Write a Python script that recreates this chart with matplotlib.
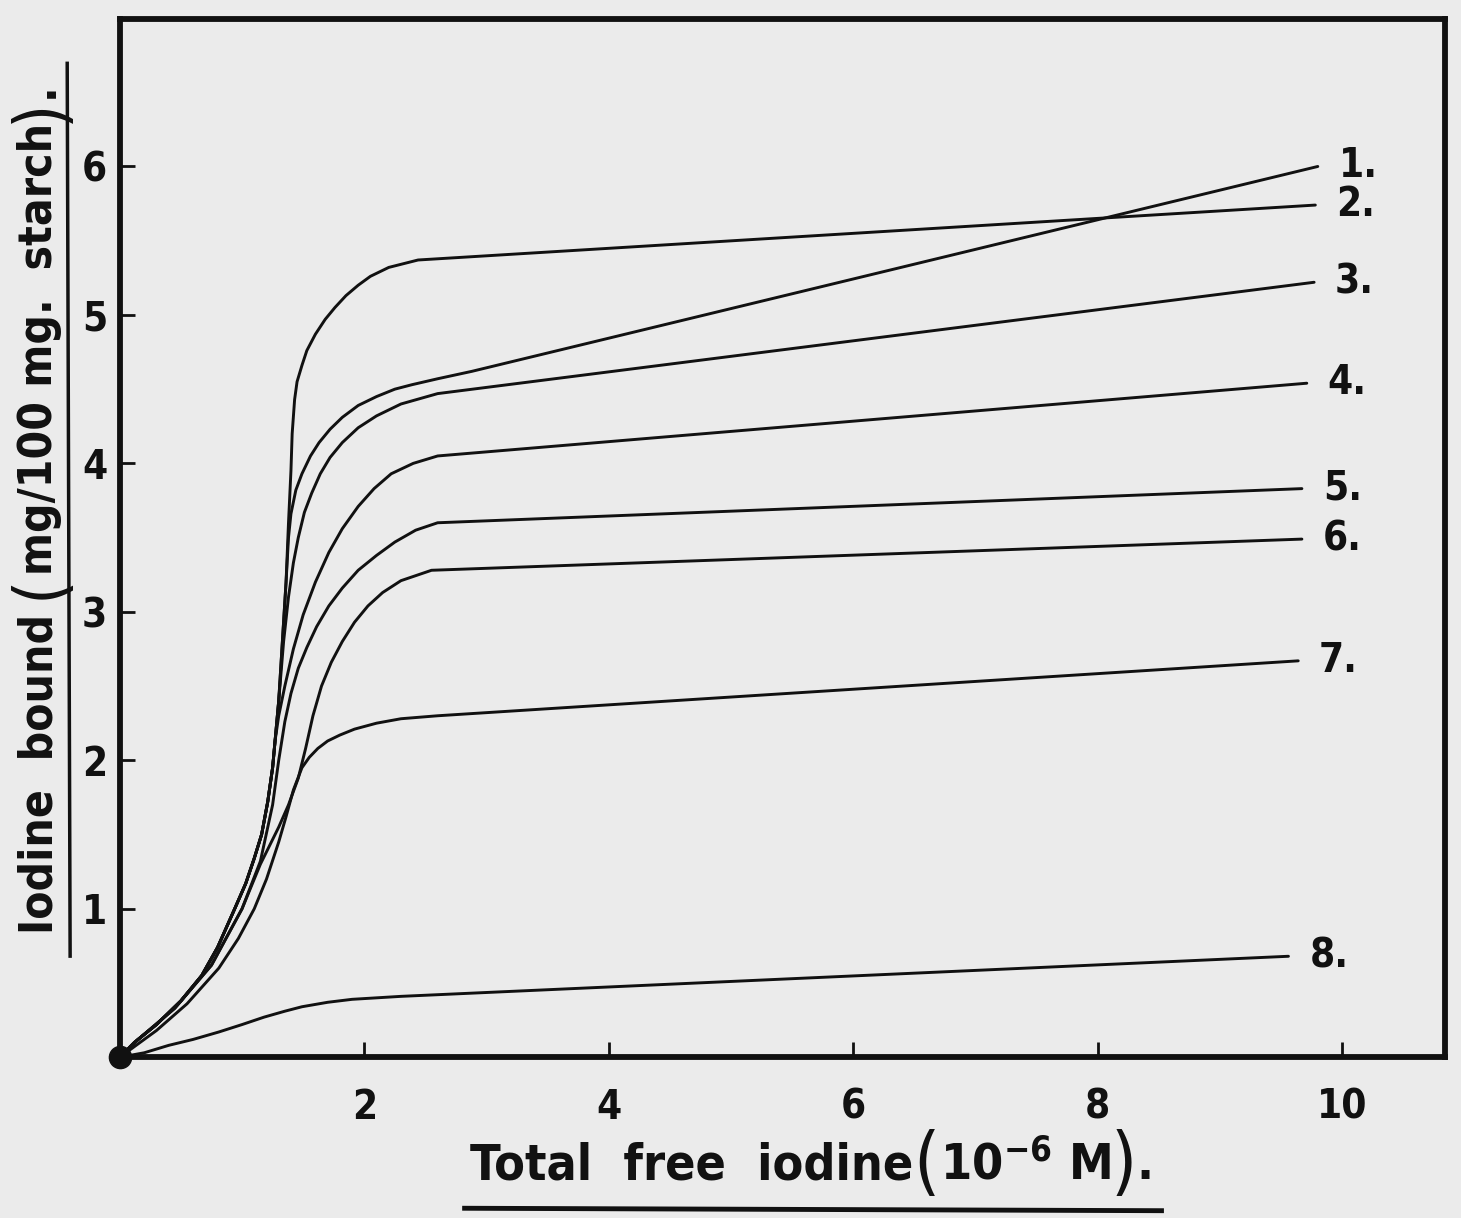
import matplotlib
matplotlib.use('Agg')
import matplotlib.pyplot as plt
from matplotlib.lines import Line2D
from matplotlib.transforms import IdentityTransform

# curves (x: 10^-6 M free iodine, y: mg / 100 mg starch)
c1_x = [0, 0.12, 0.3, 0.5, 0.67, 0.8, 0.94, 1.03, 1.1, 1.16, 1.21, 1.25, 1.27, 1.3, 1.33, 1.36, 1.38, 1.4, 1.44,
        1.49, 1.56, 1.63, 1.72, 1.82, 1.95, 2.1, 2.25, 2.39, 2.6, 2.88, 9.8]
c1_y = [0, 0.1, 0.22, 0.38, 0.55, 0.74, 1.0, 1.17, 1.34, 1.5, 1.72, 1.95, 2.13, 2.4, 2.8, 3.2, 3.5, 3.66, 3.82,
        3.93, 4.05, 4.14, 4.23, 4.31, 4.39, 4.45, 4.5, 4.53, 4.57, 4.62, 6.0]

c2_x = [0, 0.12, 0.3, 0.5, 0.67, 0.8, 0.94, 1.03, 1.1, 1.16, 1.21, 1.25, 1.27, 1.3, 1.33, 1.36, 1.38, 1.4, 1.41,
        1.43, 1.45, 1.49, 1.53, 1.6, 1.68, 1.76, 1.85, 1.95, 2.05, 2.2, 2.44, 9.78]
c2_y = [0, 0.1, 0.22, 0.38, 0.55, 0.74, 1.0, 1.17, 1.34, 1.5, 1.72, 1.95, 2.13, 2.4, 2.8, 3.2, 3.6, 3.95, 4.2,
        4.43, 4.55, 4.66, 4.76, 4.87, 4.97, 5.05, 5.13, 5.2, 5.26, 5.32, 5.37, 5.74]

c3_x = [0, 0.12, 0.3, 0.5, 0.67, 0.8, 0.94, 1.03, 1.1, 1.16, 1.21, 1.25, 1.27, 1.3, 1.34, 1.38, 1.42, 1.46, 1.51,
        1.57, 1.64, 1.72, 1.82, 1.95, 2.1, 2.3, 2.6, 9.77]
c3_y = [0, 0.1, 0.22, 0.38, 0.55, 0.74, 1.0, 1.17, 1.34, 1.5, 1.72, 1.95, 2.13, 2.4, 2.8, 3.1, 3.33, 3.5, 3.67,
        3.8, 3.93, 4.04, 4.14, 4.24, 4.32, 4.4, 4.47, 5.22]

c4_x = [0, 0.12, 0.3, 0.5, 0.67, 0.8, 0.94, 1.03, 1.1, 1.16, 1.21, 1.25, 1.27, 1.3, 1.35, 1.42, 1.5, 1.6, 1.71,
        1.82, 1.95, 2.08, 2.22, 2.4, 2.6, 9.71]
c4_y = [0, 0.1, 0.22, 0.38, 0.55, 0.74, 1.0, 1.17, 1.34, 1.5, 1.72, 1.95, 2.13, 2.3, 2.5, 2.75, 2.98, 3.2, 3.4,
        3.56, 3.71, 3.83, 3.93, 4.0, 4.05, 4.54]

c5_x = [0, 0.15, 0.45, 0.75, 1.0, 1.15, 1.25, 1.3, 1.35, 1.4, 1.46, 1.53, 1.61, 1.71, 1.82, 1.95, 2.1, 2.25,
        2.42, 2.6, 9.67]
c5_y = [0, 0.12, 0.33, 0.62, 1.0, 1.32, 1.7, 2.0, 2.26, 2.45, 2.62, 2.76, 2.9, 3.04, 3.16, 3.28, 3.38, 3.47,
        3.55, 3.6, 3.83]

c6_x = [0, 0.15, 0.45, 0.75, 1.0, 1.15, 1.3, 1.38, 1.46, 1.52, 1.58, 1.65, 1.73, 1.82, 1.92, 2.03, 2.15, 2.3,
        2.55, 9.67]
c6_y = [0, 0.12, 0.33, 0.62, 1.0, 1.3, 1.55, 1.7, 1.88, 2.08, 2.3, 2.5, 2.66, 2.8, 2.93, 3.04, 3.13, 3.21,
        3.28, 3.49]

c7_x = [0, 0.3, 0.55, 0.81, 0.97, 1.1, 1.2, 1.3, 1.36, 1.42, 1.49, 1.55, 1.62, 1.7, 1.8, 1.92, 2.1, 2.3, 2.6, 9.64]
c7_y = [0, 0.18, 0.36, 0.6, 0.8, 1.0, 1.2, 1.45, 1.62, 1.8, 1.95, 2.02, 2.08, 2.13, 2.17, 2.21, 2.25, 2.28, 2.3, 2.67]

c8_x = [0, 0.2, 0.4, 0.6, 0.81, 1.0, 1.18, 1.35, 1.49, 1.7, 1.9, 2.3, 9.56]
c8_y = [0, 0.03, 0.08, 0.12, 0.17, 0.22, 0.27, 0.31, 0.34, 0.37, 0.39, 0.41, 0.68]

curve_labels = ['1.', '2.', '3.', '4.', '5.', '6.', '7.', '8.']
x_ticks = [2, 4, 6, 8, 10]
y_ticks = [1, 2, 3, 4, 5, 6]

# axis titles, split so the brackets can be drawn tall and thin like in the original
xlabel_parts = [('Total  free  iodine', 36, 'bold'), ('(', 54, 'normal'), ('10$^{-6}$ M', 36, 'bold'),
                (')', 54, 'normal'), ('.', 36, 'bold')]
ylabel_parts = [('Iodine  bound ', 33, 'bold'), ('(', 50, 'normal'), ('mg/100 mg.  starch', 33, 'bold'),
                (')', 50, 'normal'), ('.', 33, 'bold')]

paper = '#ebebeb'
ink = '#111111'

plt.rcParams['font.family'] = ['DejaVu Sans']
plt.rcParams['font.stretch'] = 'condensed'
plt.rcParams['font.weight'] = 'bold'
plt.rcParams['mathtext.default'] = 'regular'

fig = plt.figure(figsize=(14.61, 12.18), dpi=100, facecolor=paper)
ax = fig.add_axes([0.082, 0.132, 0.907, 0.852])
ax.set_facecolor(paper)

curves = [(c1_x, c1_y), (c2_x, c2_y), (c3_x, c3_y), (c4_x, c4_y),
          (c5_x, c5_y), (c6_x, c6_y), (c7_x, c7_y), (c8_x, c8_y)]
for (xs, ys), lab in zip(curves, curve_labels):
    ax.plot(xs, ys, color=ink, lw=2.1, solid_joinstyle='round', solid_capstyle='round')
    ax.annotate(lab, (xs[-1], ys[-1]), xytext=(15, 0), textcoords='offset points',
                fontsize=29, color=ink, va='center', ha='left')

ax.plot([0], [0], 'o', ms=16, color=ink, clip_on=False, zorder=5)

ax.set_xlim(0, 10.84)
ax.set_ylim(0, 6.99)
for s in ax.spines.values():
    s.set_linewidth(4.2)
    s.set_color(ink)

ax.set_xticks(x_ticks)
ax.set_yticks(y_ticks)
ax.tick_params(direction='in', length=11, width=2, colors=ink, labelsize=29)
ax.tick_params(axis='x', pad=22)
ax.tick_params(axis='y', pad=9)


def chain_text(parts, cx, cy, vertical=False):
    # lay text pieces end to end (pixel coords), centred on cx, cy
    r = fig.canvas.get_renderer()
    items = []
    for s, fs, w in parts:
        t = fig.text(0, 0, s, fontsize=fs, fontweight=w, color=ink, transform=IdentityTransform(),
                     rotation=90 if vertical else 0, ha='center', va='center')
        bb = t.get_window_extent(r)
        items.append((t, bb.height if vertical else bb.width))
    total = sum(l for _, l in items)
    pos = (cy if vertical else cx) - total / 2
    for t, l in items:
        if vertical:
            t.set_position((cx, pos + l / 2))
        else:
            t.set_position((pos + l / 2, cy))
        pos += l


chain_text(xlabel_parts, 812, 1218 - 1165)
fig.add_artist(Line2D([0.318, 0.795], [0.008, 0.006], color=ink, lw=3.5))

chain_text(ylabel_parts, 40, 1218 - 508, vertical=True)
fig.add_artist(Line2D([0.048, 0.046], [0.215, 0.948], color=ink, lw=2.5))

fig.savefig('out.png', dpi=100, facecolor=paper)
